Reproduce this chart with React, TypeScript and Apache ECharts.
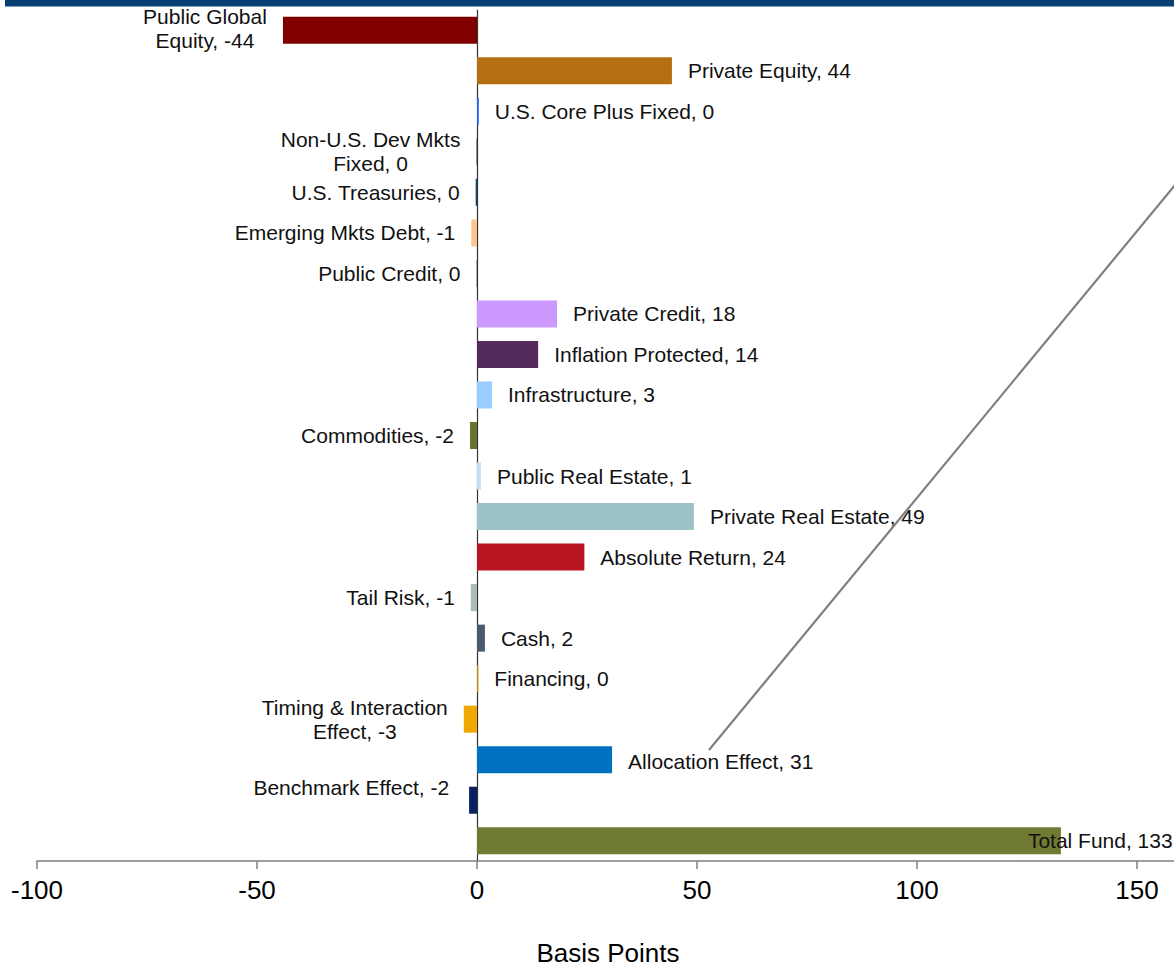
import React, { useEffect, useRef } from "react";
import * as echarts from "echarts";

const categories: string[] = [
  "Public Global\nEquity",
  "Private Equity",
  "U.S. Core Plus Fixed",
  "Non-U.S. Dev Mkts\nFixed",
  "U.S. Treasuries",
  "Emerging Mkts Debt",
  "Public Credit",
  "Private Credit",
  "Inflation Protected",
  "Infrastructure",
  "Commodities",
  "Public Real Estate",
  "Private Real Estate",
  "Absolute Return",
  "Tail Risk",
  "Cash",
  "Financing",
  "Timing & Interaction\nEffect",
  "Allocation Effect",
  "Benchmark Effect",
  "Total Fund",
];

const values: number[] = [
  -44.1, 44.3, 0.4, -0.1, -0.3, -1.3, -0.1, 18.2, 13.9, 3.4, -1.6, 0.9, 49.3,
  24.4, -1.4, 1.8, 0.3, -3.0, 30.7, -1.8, 132.7,
];

const barColors: string[] = [
  "#800000",
  "#B46F12",
  "#1F5FFF",
  "#1A2A3A",
  "#004A6E",
  "#FAC58E",
  "#2E6E5E",
  "#CC99FF",
  "#532B5E",
  "#99CCFF",
  "#6B7330",
  "#C2E0F6",
  "#9CC4C8",
  "#B8141F",
  "#AABBB6",
  "#4A5A6A",
  "#C09000",
  "#F0A800",
  "#0070C0",
  "#0A2060",
  "#717A33",
];

const xTicks = { min: -100, max: 150, interval: 50 };

// label offsets (px): centred two-line labels and hand-placed ones
const labelOffsets: Record<number, { align?: string; offset: [number, number] }> = {
  0: { align: "center", offset: [-62, -2] },
  3: { align: "center", offset: [-90, 0] },
  17: { align: "center", offset: [-93, 0] },
  18: { offset: [0, 2] },
  19: { offset: [-4, -13] },
  20: { offset: [-49, 0] },
};

const FONT = "'Liberation Sans', Arial, sans-serif";

export default function App() {
  const ref = useRef<HTMLDivElement>(null);

  useEffect(() => {
    if (!ref.current) return;
    const chart = echarts.init(ref.current, undefined, { renderer: "svg" });

    const data = values.map((v, i) => {
      const label: any = { position: v >= 0 ? "right" : "left" };
      const o = labelOffsets[i];
      if (o) {
        if (o.align) label.align = o.align;
        label.offset = o.offset;
      }
      return {
        value: v,
        itemStyle: { color: barColors[i] },
        label,
      };
    });

    chart.setOption({
      animation: false,
      grid: {
        left: 37,
        right: 37,
        top: 10,
        bottom: 107,
        containLabel: false,
        outerBoundsMode: "none",
      },
      xAxis: {
        type: "value",
        min: xTicks.min,
        max: xTicks.max,
        interval: xTicks.interval,
        splitLine: { show: false },
        axisLine: { show: true, lineStyle: { color: "#808080", width: 1.5 } },
        axisTick: { show: true, length: 8, lineStyle: { color: "#808080", width: 1.5 } },
        axisLabel: {
          fontSize: 26,
          color: "#000",
          fontFamily: FONT,
          margin: 16,
        },
      },
      yAxis: {
        type: "category",
        inverse: true,
        data: categories,
        axisLabel: { show: false },
        axisTick: { show: false },
        axisLine: { show: true, onZero: true, lineStyle: { color: "#333", width: 1.2 } },
        splitLine: { show: false },
      },
      series: [
        {
          type: "bar",
          data,
          barWidth: 27,
          label: {
            show: true,
            distance: 16,
            fontSize: 21,
            lineHeight: 24,
            color: "#111",
            fontFamily: FONT,
            formatter: (p: any) => `${p.name}, ${Math.round(p.value) || 0}`,
          },
        },
      ],
      graphic: [
        {
          type: "rect",
          shape: { x: 5, y: 0, width: 1169, height: 6.5 },
          style: { fill: "#073F73" },
          silent: true,
        },
        {
          type: "line",
          shape: { x1: 1137, y1: 861, x2: 1174, y2: 861 },
          style: { stroke: "#808080", lineWidth: 1.5 },
          silent: true,
        },
        {
          type: "line",
          shape: { x1: 709, y1: 750, x2: 1180, y2: 179 },
          style: { stroke: "#808080", lineWidth: 2.2 },
          silent: true,
          z: 100,
        },
        {
          type: "text",
          x: 608,
          y: 953,
          style: {
            text: "Basis Points",
            fontSize: 26,
            lineHeight: 28,
            fontFamily: FONT,
            fill: "#000",
            align: "center",
            verticalAlign: "middle",
          },
          silent: true,
        },
      ],
    });

    return () => chart.dispose();
  }, []);

  return (
    <div
      ref={ref}
      style={{ position: "fixed", left: 0, top: 0, width: 1174, height: 968, background: "#fff" }}
    />
  );
}
